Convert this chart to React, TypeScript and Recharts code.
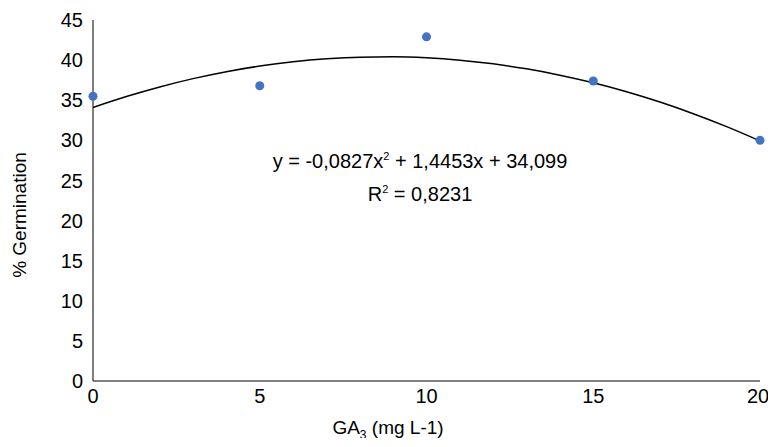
import React from "react";
import { ComposedChart, Scatter, Line, XAxis, YAxis } from "recharts";

const doseX = [0, 5, 10, 15, 20];
const germination = [35.5, 36.8, 42.9, 37.4, 30.0];
const xTicks = [0, 5, 10, 15, 20];
const yTicks = [0, 5, 10, 15, 20, 25, 30, 35, 40, 45];
const coefA = -0.0827, coefB = 1.4453, coefC = 34.099;
const trendX = [0, 1, 2, 3, 4, 5, 6, 7, 8, 9, 10, 11, 12, 13, 14, 15, 16, 17, 18, 19, 20];

const points = doseX.map((x, i) => ({ x, y: germination[i] }));
const trend = trendX.map((x) => ({ x, t: coefA * x * x + coefB * x + coefC }));

const font = "'Liberation Sans', Arial, sans-serif";

export default function App() {
  return (
    <div style={{ position: "relative", width: 760, height: 430, fontFamily: font }}>
      <ComposedChart width={760} height={430} margin={{ top: 12, right: 8, bottom: 27, left: 25 }} style={{ overflow: "visible" }}>
        <XAxis type="number" dataKey="x" domain={[0, 20]} ticks={xTicks} stroke="#000"
          tickLine={false} tick={{ fill: "#000", fontSize: 20, fontFamily: font }} tickMargin={2} />
        <YAxis type="number" domain={[0, 45]} ticks={yTicks} width={60} stroke="#000"
          tickLine={false} tick={{ fill: "#000", fontSize: 20, fontFamily: font }} tickMargin={4} />
        <Line data={trend} dataKey="t" type="monotone" stroke="#000" strokeWidth={1.5} dot={false} isAnimationActive={false} />
        <Scatter data={points} dataKey="y" fill="#4472C4" isAnimationActive={false} />
      </ComposedChart>
      <div style={{ position: "absolute", left: 12, top: 207, width: 0, height: 0 }}>
        <div style={{ position: "absolute", left: -80, top: -11, width: 160, transform: "rotate(-90deg)", textAlign: "center", fontSize: 19, lineHeight: "22px" }}>
          % Germination
        </div>
      </div>
      <div style={{ position: "absolute", left: 300, top: 410, width: 160, textAlign: "center", fontSize: 19, lineHeight: "20px" }}>
        GA<sub style={{ fontSize: 12, lineHeight: 0 }}>3</sub> (mg L-1)
      </div>
      <div style={{ position: "absolute", left: 232, top: 134, width: 360, textAlign: "center", fontSize: 20, lineHeight: "28px" }}>
        y = -0,0827x<sup style={{ fontSize: 11 }}>2</sup> + 1,4453x + 34,099<br />
        R<sup style={{ fontSize: 11 }}>2</sup> = 0,8231
      </div>
    </div>
  );
}
